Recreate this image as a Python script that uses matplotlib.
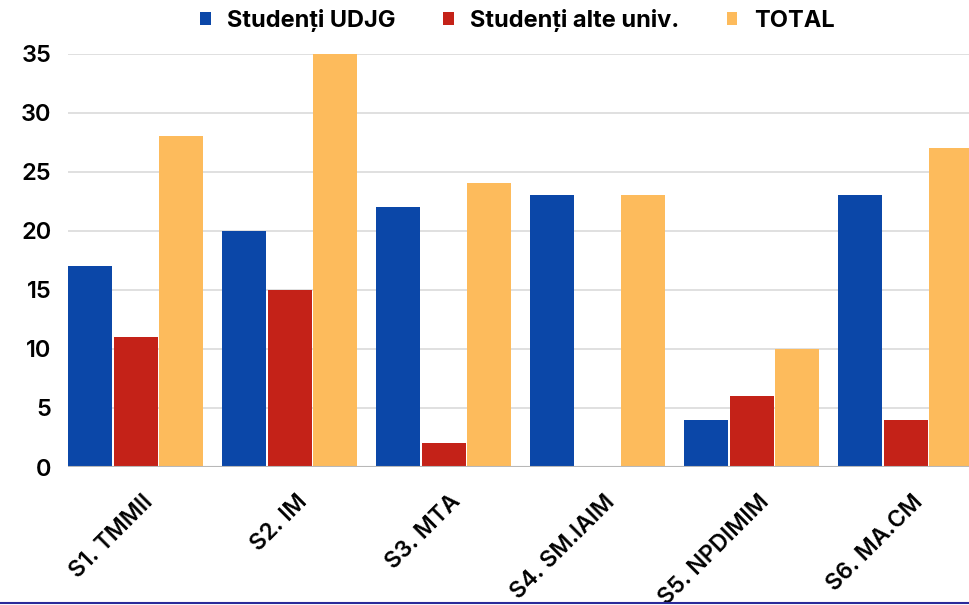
import matplotlib.pyplot as plt
from matplotlib.lines import Line2D
import numpy as np

plt.rcParams['font.family'] = ['Inter', 'DejaVu Sans']

categories = ['S1. TMMII', 'S2. IM', 'S3. MTA', 'S4. SM.IAIM', 'S5. NPDIMIM', 'S6. MA.CM']
udjg = [17, 20, 22, 23, 4, 23]
alte = [11, 15, 2, 0, 6, 4]
total = [28, 35, 24, 23, 10, 27]
series_names = ['Studenți UDJG', 'Studenți alte univ.', 'TOTAL']
colors = ['#0B47A8', '#C42218', '#FDBB5C']

fig = plt.figure(figsize=(9.69, 6.05), dpi=100)
ax = fig.add_axes([68 / 969, 1 - 467 / 605, 1 - 68 / 969, (467 - 53.5) / 605])

x = np.arange(len(categories))
pitch = 0.297
width = 0.285
for i, (vals, name, c) in enumerate(zip([udjg, alte, total], series_names, colors)):
    ax.bar(x + (i - 1) * pitch, vals, width, color=c, label=name, zorder=3)

ax.set_ylim(0, 35)
ax.set_xlim(-pitch - width / 2, -pitch - width / 2 + (969 - 68) / 154)
ax.set_yticks(range(0, 36, 5))
ax.grid(axis='y', color='#dadada', linewidth=1.2, zorder=0)
ax.axhline(0, color='#b8b8b8', linewidth=1.5, zorder=4)
for s in ax.spines.values():
    s.set_visible(False)

ax.tick_params(axis='y', length=0, pad=12, labelsize=17)
ax.tick_params(axis='x', length=0, pad=17, labelsize=16.5)
for lab in ax.get_yticklabels():
    lab.set_fontweight('semibold')
ax.set_xticks(x + 0.04)
ax.set_xticklabels(categories, rotation=45, ha='right', rotation_mode='anchor',
                   fontweight='semibold')

leg = fig.legend(loc='upper center', bbox_to_anchor=(0.534, 1.02), ncol=3, frameon=False,
                 handlelength=0.45, handleheight=0.45, handletextpad=0.7,
                 columnspacing=2.0, prop={'weight': 'bold', 'size': 17})

fig.add_artist(Line2D([0, 1], [0.0025, 0.0025], color='#2a2a9a', linewidth=1.5,
                      transform=fig.transFigure))

fig.savefig('out.png', dpi=100)
